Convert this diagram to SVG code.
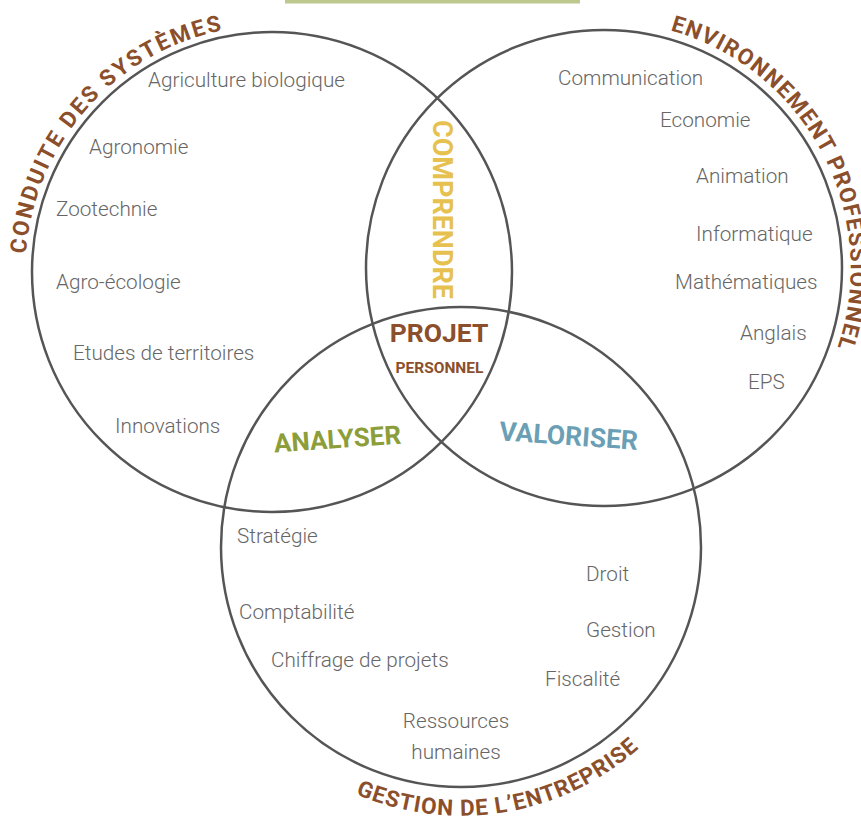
<svg xmlns="http://www.w3.org/2000/svg" width="861" height="821" viewBox="0 0 861 821">
<style>
.ring{fill:none;stroke:#555;stroke-width:2.5}
.item{font-family:Roboto,"Liberation Sans",sans-serif;font-weight:300;font-size:20.7px;fill:#666}
.title{font-family:Roboto,"Liberation Sans",sans-serif;font-weight:700;font-size:22.5px;fill:#8B4F2C}
.big{font-family:Roboto,"Liberation Sans",sans-serif;font-weight:700}
</style>
<defs>
<path id="arc1" d="M105.1,454.1 A247,247 0 0 1 432.4,84.2"/>
<path id="arc2" d="M493,47.3 A247,247 0 0 1 722.6,484.6"/>
<path id="arc3" d="M197.3,594.9 A268,268 0 0 0 726.2,508.3"/>
</defs>
<rect x="285" y="0" width="295" height="3.5" fill="#BCC88E"/>
<g id="connectors">
<circle class="ring" cx="272" cy="272" r="240"/>
<circle class="ring" cx="604" cy="268" r="238"/>
<circle class="ring" cx="461" cy="547" r="240"/>
</g>
<g id="conduite">
<text class="title" letter-spacing="2.2"><textPath href="#arc1" startOffset="50%" text-anchor="middle">CONDUITE DES SYSTÈMES</textPath></text>
<text class="item" x="148" y="87">Agriculture biologique</text>
<text class="item" x="89" y="154">Agronomie</text>
<text class="item" x="56" y="216">Zootechnie</text>
<text class="item" x="56" y="289">Agro-écologie</text>
<text class="item" x="73" y="360">Etudes de territoires</text>
<text class="item" x="115" y="433">Innovations</text>
</g>
<g id="environnement">
<text class="title" letter-spacing="1.3"><textPath href="#arc2" startOffset="50%" text-anchor="middle">ENVIRONNEMENT PROFESSIONNEL</textPath></text>
<text class="item" x="558" y="85">Communication</text>
<text class="item" x="660" y="127">Economie</text>
<text class="item" x="696" y="183">Animation</text>
<text class="item" x="696" y="241">Informatique</text>
<text class="item" x="675" y="289">Mathématiques</text>
<text class="item" x="740" y="340">Anglais</text>
<text class="item" x="748" y="389">EPS</text>
</g>
<g id="gestion">
<text class="title" letter-spacing="1"><textPath href="#arc3" startOffset="50%" text-anchor="middle">GESTION DE L’ENTREPRISE</textPath></text>
<text class="item" x="237" y="543">Stratégie</text>
<text class="item" x="586" y="581">Droit</text>
<text class="item" x="239" y="619">Comptabilité</text>
<text class="item" x="586" y="637">Gestion</text>
<text class="item" x="271" y="667">Chiffrage de projets</text>
<text class="item" x="545" y="686">Fiscalité</text>
<text class="item" x="456" y="728" text-anchor="middle">Ressources</text>
<text class="item" x="456" y="759" text-anchor="middle">humaines</text>
</g>
<g id="comprendre">
<text class="big" font-size="27" fill="#E6C14F" text-anchor="middle" transform="translate(433,209.5) rotate(90)">COMPRENDRE</text>
</g>
<g id="projet">
<text class="big" font-size="26.5" fill="#8B4F2C" x="439" y="342" text-anchor="middle">PROJET</text>
<text class="big" font-size="15.5" fill="#8B4F2C" x="439.5" y="373" text-anchor="middle">PERSONNEL</text>
</g>
<g id="analyser">
<text class="big" font-size="26" fill="#8C9E3A" text-anchor="middle" transform="translate(338,448) rotate(-4)">ANALYSER</text>
</g>
<g id="valoriser">
<text class="big" font-size="26.5" fill="#6A9FB5" text-anchor="middle" transform="translate(568,445) rotate(4)">VALORISER</text>
</g>
</svg>
